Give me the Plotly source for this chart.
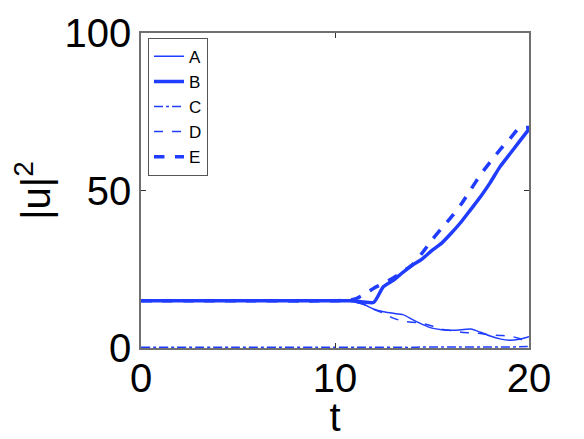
import plotly.graph_objects as go

# time samples (t) and |u|^2 for the five runs
T = [0, 5, 10, 10.5, 11, 11.5, 12, 12.5, 13, 13.5, 14, 14.5, 15, 15.5, 16,
     16.5, 17, 17.5, 18, 18.5, 19, 19.5, 20]
A = [15, 15, 15, 15, 14.6, 13.8, 12.3, 11.5, 11.0, 10.6, 9.0, 7.5, 6.3, 5.8,
     5.6, 5.8, 6.0, 5.0, 3.8, 2.9, 2.5, 2.8, 3.6]
B = [15, 15, 15, 15, 15, 14.6, 14.5, 19.5, 21.5, 24.0, 26.3, 28.3, 31.0, 33.3,
     36.5, 40.0, 44.0, 48.0, 52.5, 57.5, 61.5, 65.5, 69.5]
C = [0.2, 0.2, 0.2, 0.2, 0.2, 0.2, 0.2, 0.2, 0.2, 0.2, 0.2, 0.3, 0.3, 0.3,
     0.3, 0.3, 0.3, 0.3, 0.3, 0.3, 0.3, 0.4, 0.5]
D = [15, 15, 15, 15, 14.6, 13.8, 12.3, 11.0, 9.5, 8.5, 8.2, 7.8, 7.0, 6.0,
     5.5, 5.0, 4.8, 4.6, 4.2, 4.0, 3.8, 3.0, 1.2]
E = [15, 15, 15, 15.2, 15.5, 17.0, 19.0, 20.5, 22.2, 24.3, 26.5, 30.2, 34.3,
     38.0, 41.6, 45.6, 50.3, 55.0, 59.0, 62.9, 66.3, 69.8, 70.0]

BLUE = "#1f3cff"
FONT = "Liberation Sans, Arial, sans-serif"

series = [
    ("A", A, 1.5, "solid"),
    ("B", B, 3.5, "solid"),
    ("C", C, 1.5, "dashdot"),
    ("D", D, 1.5, "dash"),
    ("E", E, 3.5, "dash"),
]

fig = go.Figure()
for name, vals, w, dash in series:
    fig.add_trace(go.Scatter(
        x=T, y=vals, mode="lines", name=name,
        line=dict(color=BLUE, width=w, dash=dash, shape="spline", smoothing=0.6),
    ))

axis_common = dict(
    showgrid=False, zeroline=False, automargin=False,
    showline=True, linecolor="#707070", linewidth=1.5, mirror="ticks",
    ticks="inside", ticklen=5, tickcolor="#333",
    tickfont=dict(size=40, color="black", family=FONT),
)

# page body adds an 8px offset (left/top), so the figure is 8px smaller
fig.update_layout(
    width=576, height=431,
    margin=dict(l=133, r=55, t=25, b=91),
    paper_bgcolor="white", plot_bgcolor="white",
    font=dict(family=FONT, color="black"),
    xaxis=dict(**axis_common, range=[0, 20], tickvals=[0, 10, 20],
               ticklabelstandoff=-6,
               title=dict(text="t", font=dict(size=40), standoff=4)),
    yaxis=dict(**axis_common, range=[0, 100], tickvals=[0, 50, 100],
               title=dict(text="|u|<sup>2</sup>", font=dict(size=40), standoff=8)),
    legend=dict(x=0.018, y=0.985, xanchor="left", yanchor="top",
                bgcolor="white", bordercolor="#555", borderwidth=1,
                font=dict(size=17, family=FONT)),
)

fig.write_html("out.html")
